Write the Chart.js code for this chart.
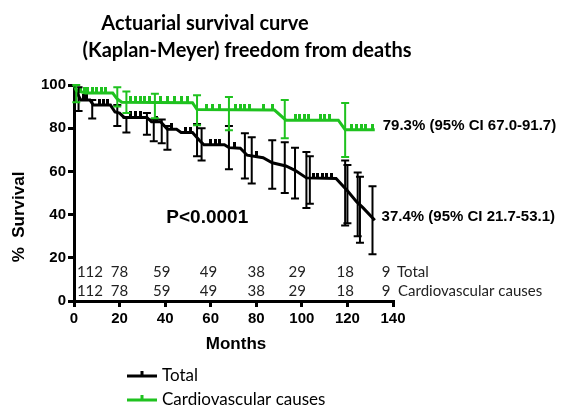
<!DOCTYPE html>
<html>
<head>
<meta charset="utf-8">
<script src="https://cdn.jsdelivr.net/npm/chart.js@4.4.1/dist/chart.umd.min.js"></script>
<style>
  html, body { margin: 0; padding: 0; background: #fff; }
</style>
</head>
<body>
<canvas id="myChart" width="572" height="410"></canvas>
<script>
// survival curves (month, % survival) - actuarial points joined by lines
const totalMonths = [0, 1, 3, 7, 8.5, 16, 18, 20, 22, 32, 34, 38, 41, 45, 47, 52, 55, 57, 66, 68, 73, 76, 83, 87, 93, 97, 102, 115, 120, 124, 127, 132];
const totalSurvival = [100, 97, 93, 93, 90.7, 90.7, 87.5, 87, 85, 85, 83, 83, 79.5, 79.5, 78, 78, 74.4, 72.3, 72.3, 71, 70.7, 67.5, 66.3, 64, 62.5, 60.5, 57, 56.7, 51, 46, 43, 37.4];
const cvMonths = [0, 1, 5, 17, 19, 21, 52, 54, 88, 93, 116, 119, 132];
const cvSurvival = [100, 97.5, 96.3, 96.3, 93.5, 92, 91.8, 88.6, 88.4, 83.7, 83.7, 79.3, 79.3];

// censored observations
const totalCensorX = [4, 5.5, 11, 13, 14.5, 25, 27, 29, 36, 43, 49, 51, 60, 62, 64, 70.5, 80, 105, 107, 109, 111, 113];
const totalCensorY = [93, 93, 90.7, 90.7, 90.7, 85, 85, 85, 83, 79.5, 78, 78, 72.3, 72.3, 72.3, 70.8, 66.6, 56.7, 56.7, 56.7, 56.7, 56.7];
const cvCensorX = [3, 4.5, 6, 8, 10, 12, 14, 25, 27, 29, 31, 33, 38, 41, 44, 47, 50, 58, 61, 64, 71, 73, 75, 77, 83, 87, 97, 99, 101, 103, 108, 110, 112, 122, 124, 126, 128, 131];
const cvCensorY = [96.3, 96.3, 96.3, 96.3, 96.3, 96.3, 96.3, 92, 92, 92, 92, 92, 92, 92, 92, 92, 92, 88.6, 88.6, 88.6, 88.5, 88.5, 88.5, 88.5, 88.5, 88.4, 83.7, 83.7, 83.7, 83.7, 83.7, 83.7, 83.7, 79.3, 79.3, 79.3, 79.3, 79.3];

// 95% CI error bars
const totalErrX = [2, 8, 19, 23, 32, 35, 38.5, 41, 54, 56, 68, 75, 78, 87, 92.5, 97, 102, 103.5, 119, 120, 124.5, 125.5, 131];
const totalErrLow = [88, 84.5, 81, 78, 77, 74, 73, 70, 67, 65, 61, 56.7, 54.4, 52, 50, 47.5, 43, 45, 35, 36, 30, 27, 21.7];
const totalErrHigh = [99, 93, 90.7, 85, 87, 84, 84, 81, 82, 80, 81, 77.7, 75.8, 74.4, 73.5, 71, 69, 67, 65, 63, 59.5, 57.5, 53.1];
const cvErrX = [1, 19, 23, 35.5, 54, 68, 92.5, 119];
const cvErrLow = [92, 90, 87, 84.6, 81.4, 79, 75.3, 66.7];
const cvErrHigh = [100, 99, 97, 96, 95.3, 94.4, 93, 91.7];

// numbers at risk
const riskMonths = [7, 20, 38.5, 59, 80, 98, 119, 137];
const riskTotal = [112, 78, 59, 49, 38, 29, 18, 9];
const riskCv = [112, 78, 59, 49, 38, 29, 18, 9];

const xTicks = [0, 20, 40, 60, 80, 100, 120, 140];
const yTicks = [0, 20, 40, 60, 80, 100];

const GREEN = "#1fc21f";
const BLACK = "#000000";

function tickImage(color) {
  const c = document.createElement("canvas");
  c.width = 3;
  c.height = 12;
  const g = c.getContext("2d");
  g.fillStyle = color;
  g.fillRect(0, 0, 3, 6);
  return c;
}

const toXY = (xs, ys) => xs.map((m, i) => ({ x: m, y: ys[i] }));

const errorBars = {
  id: "errorBars",
  afterDatasetsDraw(chart) {
    const { ctx, scales: { x, y } } = chart;
    const draw = (xs, lo, hi, color) => {
      ctx.save();
      ctx.strokeStyle = color;
      ctx.lineWidth = 2;
      xs.forEach((m, i) => {
        const px = x.getPixelForValue(m);
        const a = y.getPixelForValue(lo[i]);
        const b = y.getPixelForValue(hi[i]);
        ctx.beginPath();
        ctx.moveTo(px, a); ctx.lineTo(px, b);
        ctx.moveTo(px - 4, a); ctx.lineTo(px + 4, a);
        ctx.moveTo(px - 4, b); ctx.lineTo(px + 4, b);
        ctx.stroke();
      });
      ctx.restore();
    };
    draw(totalErrX, totalErrLow, totalErrHigh, BLACK);
    draw(cvErrX, cvErrLow, cvErrHigh, GREEN);
  }
};

const texts = {
  id: "texts",
  afterDraw(chart) {
    const { ctx, scales: { x, y } } = chart;
    ctx.save();
    ctx.fillStyle = "#000";
    ctx.textBaseline = "alphabetic";
    ctx.textAlign = "center";
    ctx.font = "bold 20px Lato";
    ctx.fillText("Actuarial survival curve", 205, 30);
    ctx.fillText("(Kaplan-Meyer) freedom from deaths", 247, 57);

    ctx.textBaseline = "middle";
    // axis titles
    ctx.font = "bold 17px 'Liberation Sans'";
    ctx.fillText("Months", 236, 344);
    ctx.save();
    ctx.translate(19, 217);
    ctx.rotate(-Math.PI / 2);
    ctx.fillText("%  Survival", 0, 0);
    ctx.restore();

    // CI annotations
    ctx.textAlign = "left";
    ctx.font = "bold 15px 'Liberation Sans'";
    ctx.fillText("79.3% (95% CI 67.0-91.7)", x.getPixelForValue(135.5), y.getPixelForValue(81));
    ctx.fillText("37.4% (95% CI 21.7-53.1)", x.getPixelForValue(135), y.getPixelForValue(39));

    ctx.textAlign = "center";
    ctx.font = "bold 19px 'Liberation Sans'";
    ctx.fillText("P<0.0001", x.getPixelForValue(58.5), y.getPixelForValue(38.5));

    // numbers at risk
    ctx.fillStyle = "#222";
    ctx.font = "15px Lato";
    const r1 = y.getPixelForValue(13.3);
    const r2 = y.getPixelForValue(4.6);
    riskMonths.forEach((m, i) => {
      const px = x.getPixelForValue(m);
      ctx.fillText(String(riskTotal[i]), px, r1);
      ctx.fillText(String(riskCv[i]), px, r2);
    });
    ctx.textAlign = "left";
    ctx.fillText("Total", 397, r1);
    ctx.fillText("Cardiovascular causes", 398, r2);

    // legend
    const items = [["Total", BLACK, 376], ["Cardiovascular causes", GREEN, 400]];
    items.forEach(([label, color, ly]) => {
      ctx.strokeStyle = color;
      ctx.lineWidth = 3;
      ctx.beginPath();
      ctx.moveTo(127, ly); ctx.lineTo(157, ly);
      ctx.moveTo(142, ly); ctx.lineTo(142, ly - 5);
      ctx.stroke();
      ctx.fillStyle = "#000";
      ctx.font = "17px Lato";
      ctx.fillText(label, 162, ly);
    });
    ctx.restore();
  }
};

const ctx = document.getElementById("myChart");

const chart = new Chart(ctx, {
  type: "line",
  data: {
    datasets: [
      {
        label: "Cardiovascular causes",
        data: toXY(cvMonths, cvSurvival),
        borderColor: GREEN,
        borderWidth: 3,
        pointRadius: 0,
        clip: 8,
        order: 1
      },
      {
        label: "cv censored",
        data: toXY(cvCensorX, cvCensorY),
        showLine: false,
        pointStyle: tickImage(GREEN),
        clip: 8,
        order: 1
      },
      {
        label: "Total",
        data: toXY(totalMonths, totalSurvival),
        borderColor: BLACK,
        borderWidth: 3,
        pointRadius: 0,
        clip: 8,
        order: 2
      },
      {
        label: "total censored",
        data: toXY(totalCensorX, totalCensorY),
        showLine: false,
        pointStyle: tickImage(BLACK),
        clip: 8,
        order: 2
      }
    ]
  },
  options: {
    responsive: false,
    animation: false,
    devicePixelRatio: 1,
    layout: { padding: { top: 85, right: 179, left: 0, bottom: 0 } },
    plugins: {
      legend: { display: false },
      tooltip: { enabled: false }
    },
    scales: {
      x: {
        type: "linear",
        min: 0,
        max: 140,
        afterFit(scale) { scale.height = 109; },
        afterBuildTicks(scale) { scale.ticks = xTicks.map(v => ({ value: v })); },
        border: { color: "#000", width: 3 },
        grid: { drawOnChartArea: false, color: "#000", lineWidth: 3, tickLength: 6 },
        ticks: { color: "#000", font: { family: "'Liberation Sans'", weight: "bold", size: 15 }, padding: 3, maxRotation: 0 }
      },
      y: {
        min: 0,
        max: 100,
        afterFit(scale) { scale.width = 74; },
        afterBuildTicks(scale) { scale.ticks = yTicks.map(v => ({ value: v })); },
        border: { color: "#000", width: 3 },
        grid: { drawOnChartArea: false, color: "#000", lineWidth: 3, tickLength: 6 },
        ticks: { color: "#000", font: { family: "'Liberation Sans'", weight: "bold", size: 15 }, padding: 2 }
      }
    }
  },
  plugins: [errorBars, texts]
});
</script>
</body>
</html>
